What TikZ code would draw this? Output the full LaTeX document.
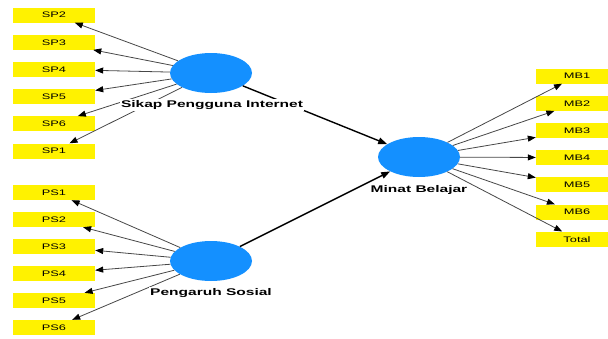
\documentclass[tikz,border=0pt]{standalone}
\usepackage{fontspec}
\setmainfont{Liberation Sans}
\newfontfamily\lebarfont[FakeStretch=1.6]{Liberation Sans}
\usepackage{tikz}
\usetikzlibrary{arrows.meta}
\usetikzlibrary{shapes.geometric}

\definecolor{biruvar}{RGB}{20,144,255}

\begin{document}
\begin{tikzpicture}[
    x=1pt, y=-1pt,
    konstruk/.style={ellipse, fill=biruvar, minimum width=82pt, minimum height=40pt, inner sep=0pt},
    indikator/.style={rectangle, fill=yellow, minimum width=82pt, minimum height=15pt, inner sep=0pt,
        font=\lebarfont\fontsize{8}{9}\selectfont, text height=5.8pt, text depth=0pt},
    nama/.style={fill=white, inner sep=1pt, font=\lebarfont\bfseries\fontsize{9.7}{10}\selectfont},
    luar/.style={-{Triangle[length=8pt,width=6pt,color=black]}, draw=black!72, line width=0.8pt},
    dalam/.style={-{Triangle[length=9pt,width=6.5pt]}, draw=black, line width=1.4pt}
]
\useasboundingbox (0,0) rectangle (608,338);

% Variabel laten
\node[konstruk] (sp) at (211, 73) {};
\node[konstruk] (ps) at (211, 261) {};
\node[konstruk] (mb) at (419, 157) {};

% Indikator Sikap Pengguna Internet
\node[indikator] (sp2) at (54, 15) {SP2};
\node[indikator] (sp3) at (54, 42.2) {SP3};
\node[indikator] (sp4) at (54, 69.4) {SP4};
\node[indikator] (sp5) at (54, 96.6) {SP5};
\node[indikator] (sp6) at (54, 123.8) {SP6};
\node[indikator] (sp1) at (54, 151) {SP1};

% Indikator Pengaruh Sosial
\node[indikator] (ps1) at (54, 192.5) {PS1};
\node[indikator] (ps2) at (54, 219.5) {PS2};
\node[indikator] (ps3) at (54, 246.5) {PS3};
\node[indikator] (ps4) at (54, 273.5) {PS4};
\node[indikator] (ps5) at (54, 300.5) {PS5};
\node[indikator] (ps6) at (54, 327.5) {PS6};

% Indikator Minat Belajar
\node[indikator] (mb1) at (577, 76) {MB1};
\node[indikator] (mb2) at (577, 103.2) {MB2};
\node[indikator] (mb3) at (577, 130.4) {MB3};
\node[indikator] (mb4) at (577, 157.6) {MB4};
\node[indikator] (mb5) at (577, 184.8) {MB5};
\node[indikator] (mb6) at (577, 212) {MB6};
\node[indikator] (total) at (577, 239.2) {Total};

% Panah ke indikator
\draw[luar] (sp) -- (sp2);
\draw[luar] (sp) -- (sp3);
\draw[luar] (sp) -- (sp4);
\draw[luar] (sp) -- (sp5);
\draw[luar] (sp) -- (sp6);
\draw[luar] (sp) -- (sp1);

\draw[luar] (ps) -- (ps1);
\draw[luar] (ps) -- (ps2);
\draw[luar] (ps) -- (ps3);
\draw[luar] (ps) -- (ps4);
\draw[luar] (ps) -- (ps5);
\draw[luar] (ps) -- (ps6);

\draw[luar] (mb) -- (mb1);
\draw[luar] (mb) -- (mb2);
\draw[luar] (mb) -- (mb3);
\draw[luar] (mb) -- (mb4);
\draw[luar] (mb) -- (mb5);
\draw[luar] (mb) -- (mb6);
\draw[luar] (mb) -- (total);

% Jalur struktural
\draw[dalam] (sp) -- (mb);
\draw[dalam] (ps) -- (mb);

% Nama variabel
\node[nama] (spnama) at (212, 105) {Sikap Pengguna Internet};
\node[nama] (psnama) at (211, 293) {Pengaruh Sosial};
\node[nama] (mbnama) at (419, 190) {Minat Belajar};

\end{tikzpicture}
\end{document}
